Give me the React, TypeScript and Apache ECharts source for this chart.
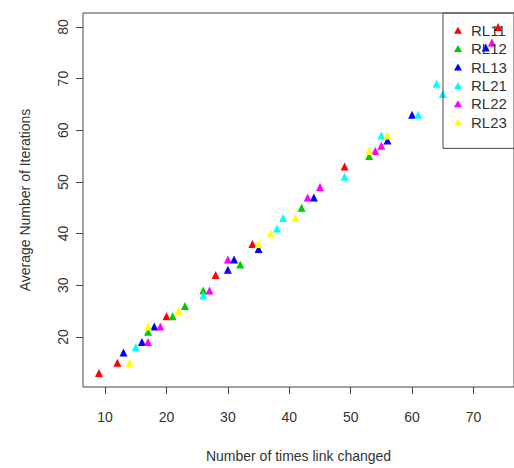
import React, { useEffect, useRef } from "react";
import * as echarts from "echarts";

const seriesNames = ["RL11", "RL12", "RL13", "RL21", "RL22", "RL23"];
const seriesColors = ["#FF0000", "#00CD00", "#0000FF", "#00FFFF", "#FF00FF", "#FFFF00"];

const rl11: [number, number][] = [[9, 13], [12, 15], [20, 24], [28, 32], [34, 38], [49, 53], [74, 80]];
const rl12: [number, number][] = [[17, 21], [21, 24], [23, 26], [26, 29], [32, 34], [42, 45], [53, 55]];
const rl13: [number, number][] = [[13, 17], [16, 19], [18, 22], [30, 33], [31, 35], [35, 37], [44, 47], [56, 58], [60, 63], [72, 76]];
const rl21: [number, number][] = [[15, 18], [26, 28], [38, 41], [39, 43], [49, 51], [55, 59], [61, 63], [64, 69], [65, 67]];
const rl22: [number, number][] = [[17, 19], [19, 22], [27, 29], [30, 35], [43, 47], [45, 49], [54, 56], [55, 57], [73, 77]];
const rl23: [number, number][] = [[14, 15], [17, 22], [22, 25], [35, 38], [37, 40], [41, 43], [53, 56], [56, 59]];

const xTicks = [10, 20, 30, 40, 50, 60, 70];
const yTicks = [20, 30, 40, 50, 60, 70, 80];

const allData = [rl11, rl12, rl13, rl21, rl22, rl23];

export default function App() {
  const ref = useRef<HTMLDivElement>(null);
  useEffect(() => {
    if (!ref.current) return;
    const chart = echarts.init(ref.current, null, { renderer: "svg" });
    const font = "Liberation Sans, Arial, sans-serif";
    const textColor = "#333";
    chart.setOption({
      animation: false,
      backgroundColor: "#fff",
      grid: {
        left: 83,
        top: 13,
        width: 435,
        height: 375,
        show: true,
        borderColor: "#444",
        borderWidth: 1,
        backgroundColor: "transparent",
      },
      xAxis: {
        type: "value",
        min: 6.4,
        max: 76.6,
        splitLine: { show: false },
        axisLine: { show: false },
        axisTick: { show: true, inside: false, length: 7, customValues: xTicks, lineStyle: { color: "#444" } },
        axisLabel: {
          customValues: xTicks,
          margin: 23,
          fontSize: 14,
          fontFamily: font,
          color: textColor,
        },
        name: "Number of times link changed",
        nameLocation: "middle",
        nameGap: 62,
        nameTextStyle: { fontSize: 14, fontFamily: font, color: textColor },
      },
      yAxis: {
        type: "value",
        min: 10.3,
        max: 82.7,
        splitLine: { show: false },
        axisLine: { show: false },
        axisTick: { show: true, inside: false, length: 7, customValues: yTicks, lineStyle: { color: "#444" } },
        axisLabel: {
          customValues: yTicks,
          rotate: 90,
          margin: 13,
          fontSize: 14,
          fontFamily: font,
          color: textColor,
        },
        name: "Average Number of Iterations",
        nameLocation: "middle",
        nameGap: 51,
        nameTextStyle: { fontSize: 14, fontFamily: font, color: textColor },
      },
      legend: {
        orient: "vertical",
        left: 443,
        top: 13,
        padding: [8, 12, 17, 11],
        itemGap: 0,
        itemWidth: 8,
        itemHeight: 7,
        borderColor: "#444",
        borderWidth: 1,
        textStyle: { fontSize: 15, fontFamily: font, color: "#333", lineHeight: 18.4, padding: [0, 0, 0, 4] },
        data: seriesNames.map((n) => ({ name: n, icon: "triangle" })),
      },
      series: seriesNames.map((name, i) => ({
        name,
        type: "scatter",
        symbol: "triangle",
        symbolSize: 8,
        itemStyle: { color: seriesColors[i], opacity: 1 },
        data: allData[i],
      })),
    });
    return () => chart.dispose();
  }, []);
  return (
    <div
      ref={ref}
      style={{ position: "fixed", left: 0, top: 0, width: 514, height: 468 }}
    />
  );
}
